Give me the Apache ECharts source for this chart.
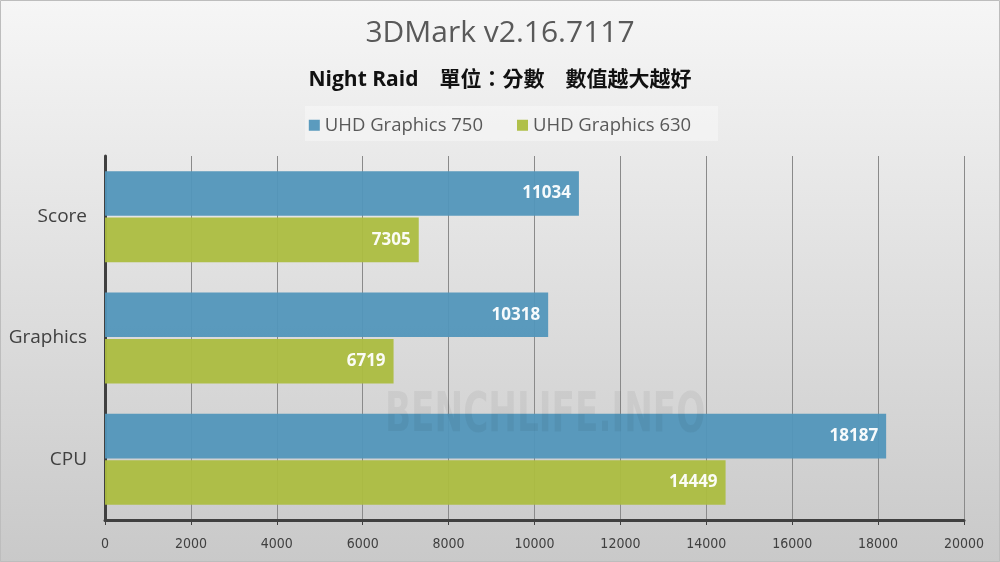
<!DOCTYPE html>
<html><head><meta charset="utf-8">
<script src="https://cdn.jsdelivr.net/npm/echarts@6/dist/echarts.min.js"></script>
<style>html,body{margin:0;padding:0;}#c{width:1000px;height:562px;}</style>
</head><body><div id="c"></div>
<script>
const categories = ['Score', 'Graphics', 'CPU'];
const seriesNames = ['UHD Graphics 750', 'UHD Graphics 630'];
const uhd750 = [11034, 10318, 18187];
const uhd630 = [7305, 6719, 14449];
const colors = ['#5296bb', '#acbd40'];
const font = '"Open Sans","Noto Sans","Noto Sans CJK TC",sans-serif';

const chart = echarts.init(document.getElementById('c'));
const label = {show: true, position: 'insideRight', color: '#fff', fontWeight: 'bold', fontSize: 17, fontFamily: font, distance: 8};
chart.setOption({
  backgroundColor: new echarts.graphic.LinearGradient(0, 0, 0, 1, [
    {offset: 0, color: '#f6f6f6'}, {offset: 1, color: '#c9c9c9'}]),
  animation: false,
  textStyle: {fontFamily: font},
  graphic: [
    {type: 'rect', shape: {x: 0.5, y: 0.5, width: 999, height: 561}, style: {fill: 'none', stroke: '#bdbdbd', lineWidth: 1}, z: 100},
    {type: 'rect', shape: {x: 305, y: 106, width: 413, height: 35}, style: {fill: 'rgba(255,255,255,0.35)'}, z: 0},
    {type: 'text', x: 385, y: 388, scaleX: 0.68, style: {text: 'BENCHLIFE.INFO', fill: 'rgba(0,0,0,0.05)', font: 'bold 56px "DejaVu Sans Condensed","Liberation Sans Narrow",sans-serif'}, z: 50}
  ],
  title: [
    {text: '3DMark v2.16.7117', left: 'center', top: 13, textStyle: {fontSize: 30, fontWeight: 'normal', color: '#595959', fontFamily: font}},
    {text: 'Night Raid　單位：分數　數值越大越好', left: 'center', top: 65, textStyle: {fontSize: 21, fontWeight: 'bold', color: '#111', fontFamily: font}}
  ],
  legend: {
    data: seriesNames, top: 111, left: 'center', itemWidth: 11, itemHeight: 11, itemGap: 34,
    icon: 'rect', textStyle: {fontSize: 18.5, color: '#595959', fontFamily: font}
  },
  grid: {left: 105, right: 36, top: 156, bottom: 42},
  xAxis: {
    type: 'value', min: 0, max: 20000, interval: 2000,
    axisLine: {show: true, lineStyle: {color: '#404040', width: 3}},
    axisTick: {show: true, length: 5, lineStyle: {color: '#404040', width: 1}},
    axisLabel: {color: '#404040', fontSize: 14, margin: 17, formatter: v => String(v), fontFamily: '"Liberation Sans Narrow","DejaVu Sans Condensed",sans-serif'},
    splitLine: {show: true, lineStyle: {color: '#8a8a8a', width: 1}}
  },
  yAxis: {
    type: 'category', data: categories, inverse: true,
    axisLine: {show: true, lineStyle: {color: '#404040', width: 3}},
    axisTick: {show: false},
    axisLabel: {color: '#404040', fontSize: 19, margin: 18, fontFamily: font}
  },
  series: [
    {name: seriesNames[0], type: 'bar', data: uhd750, itemStyle: {color: colors[0], opacity: 0.95}, barCategoryGap: '25%', barGap: '4%', label: label},
    {name: seriesNames[1], type: 'bar', data: uhd630, itemStyle: {color: colors[1], opacity: 0.95}, label: label}
  ]
});
</script></body></html>
